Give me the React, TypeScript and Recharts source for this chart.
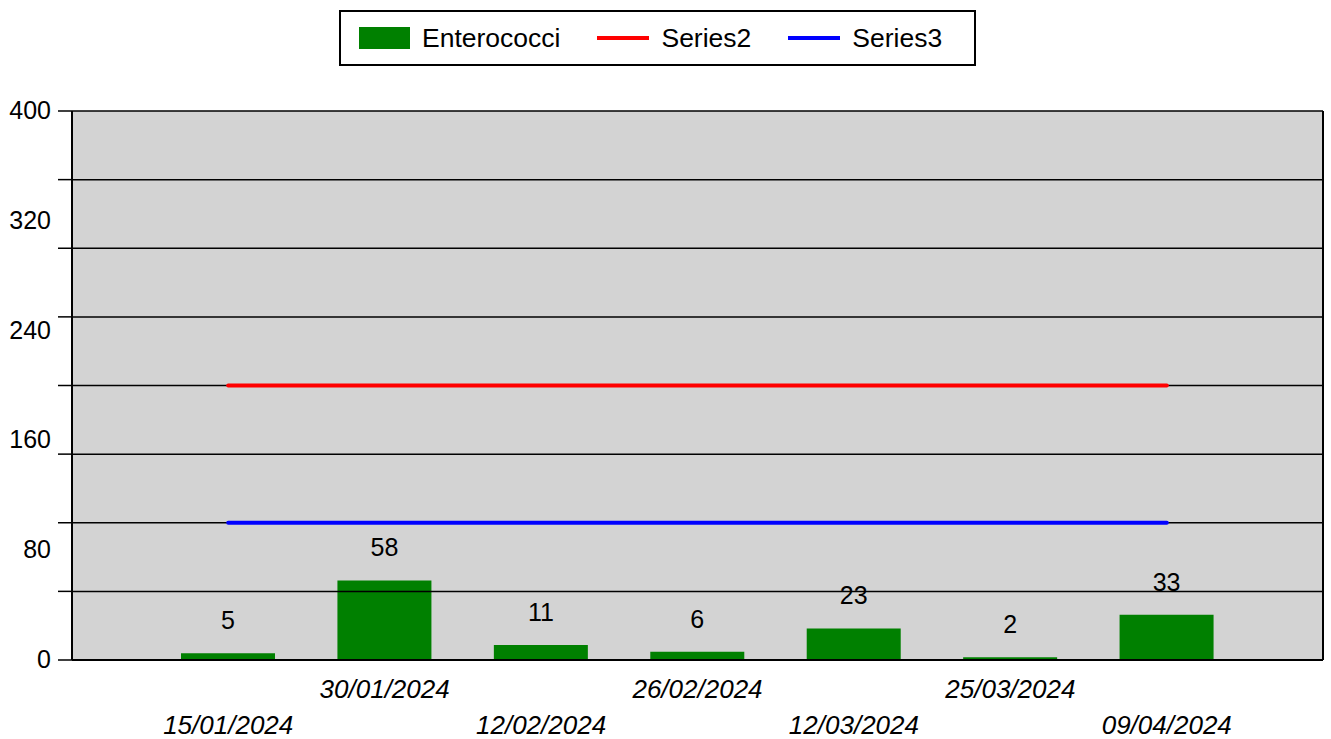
import React from "react";
import {
  ComposedChart,
  Bar,
  Line,
  XAxis,
  YAxis,
  Legend,
  ReferenceLine,
  CartesianGrid,
  LabelList,
} from "recharts";

const dates = [
  "15/01/2024",
  "30/01/2024",
  "12/02/2024",
  "26/02/2024",
  "12/03/2024",
  "25/03/2024",
  "09/04/2024",
];
const enterococci = [5, 58, 11, 6, 23, 2, 33];
const series2 = [200, 200, 200, 200, 200, 200, 200];
const series3 = [100, 100, 100, 100, 100, 100, 100];

const gridValues = [0, 50, 100, 150, 200, 250, 300, 350, 400];
const labelValues = [0, 80, 160, 240, 320, 400];

const FONT = "'Liberation Sans', Arial, sans-serif";

const data = dates.map((d, i) => ({
  date: d,
  Enterococci: enterococci[i],
  Series2: series2[i],
  Series3: series3[i],
}));

const yTicks = Array.from(new Set([...gridValues, ...labelValues])).sort((a, b) => a - b);

const YTick = (props: any) => {
  const { x, y, payload } = props;
  const v = payload.value;
  return (
    <g>
      {gridValues.includes(v) && (
        <line x1={x - 14} x2={x} y1={y} y2={y} stroke="#000" strokeWidth={1.5} />
      )}
      {labelValues.includes(v) && (
        <text x={x - 21} y={y} dy={8} textAnchor="end" fontSize={25} fontFamily={FONT} fill="#000">
          {v}
        </text>
      )}
    </g>
  );
};

const XTick = (props: any) => {
  const { x, y, payload, index } = props;
  const low = index % 2 === 0;
  return (
    <text
      x={x}
      y={low ? y + 66 : y + 30}
      textAnchor="middle"
      fontSize={26}
      fontStyle="italic"
      fontFamily={FONT}
      fill="#000"
    >
      {payload.value}
    </text>
  );
};

const LegendBox = () => {
  const items = [
    { name: "Enterococci", color: "#008000", type: "rect" },
    { name: "Series2", color: "#ff0000", type: "line" },
    { name: "Series3", color: "#0000ff", type: "line" },
  ];
  return (
    <div
      style={{
        border: "2px solid #000",
        height: 56,
        boxSizing: "border-box",
        display: "flex",
        alignItems: "center",
        paddingLeft: 18,
        fontFamily: FONT,
        fontSize: 26.5,
        color: "#000",
      }}
    >
      {items.map((it) => (
        <div key={it.name} style={{ display: "flex", alignItems: "center", marginRight: 37 }}>
          {it.type === "rect" ? (
            <div style={{ width: 51, height: 22, background: it.color }} />
          ) : (
            <div style={{ width: 52, height: 4, background: it.color }} />
          )}
          <span style={{ marginLeft: 12 }}>{it.name}</span>
        </div>
      ))}
    </div>
  );
};

export default function App() {
  return (
    <div style={{ position: "absolute", left: 0, top: 0 }}>
      <ComposedChart
        width={1331}
        height={739}
        data={data}
        margin={{ top: 111, right: 0, bottom: 78, left: 0 }}
      >
        <CartesianGrid horizontal={false} vertical={false} fill="#d3d3d3" fillOpacity={1} />
        <XAxis
          dataKey="date"
          height={1}
          padding={{ left: 78, right: 78 }}
          tickLine={false}
          axisLine={{ stroke: "#000", strokeWidth: 2 }}
          tick={<XTick />}
          interval={0}
        />
        <YAxis
          width={72}
          domain={[0, 400]}
          ticks={yTicks}
          interval={0}
          tickLine={false}
          tickSize={0}
          tickMargin={0}
          axisLine={{ stroke: "#000", strokeWidth: 2 }}
          tick={<YTick />}
        />
        <YAxis
          yAxisId="right"
          orientation="right"
          width={8}
          domain={[0, 400]}
          ticks={gridValues}
          tick={false}
          tickLine={false}
          axisLine={{ stroke: "#000", strokeWidth: 2 }}
        />
        {gridValues.map((g) => (
          <ReferenceLine key={g} y={g} stroke="#000" strokeWidth={1.5} />
        ))}
        <Bar dataKey="Enterococci" fill="#008000" barSize={94} isAnimationActive={false}>
          <LabelList
            dataKey="Enterococci"
            position="top"
            offset={24}
            fontSize={25}
            fontFamily={FONT}
            fill="#000"
          />
        </Bar>
        <Line
          dataKey="Series2"
          stroke="#ff0000"
          strokeWidth={4}
          strokeLinecap="round"
          dot={false}
          activeDot={false}
          isAnimationActive={false}
        />
        <Line
          dataKey="Series3"
          stroke="#0000ff"
          strokeWidth={4}
          strokeLinecap="round"
          dot={false}
          activeDot={false}
          isAnimationActive={false}
        />
        <Legend
          layout="horizontal"
          verticalAlign="middle"
          align="center"
          content={<LegendBox />}
          wrapperStyle={{ top: 10, left: 339, width: 637, height: 56 }}
        />
      </ComposedChart>
    </div>
  );
}
